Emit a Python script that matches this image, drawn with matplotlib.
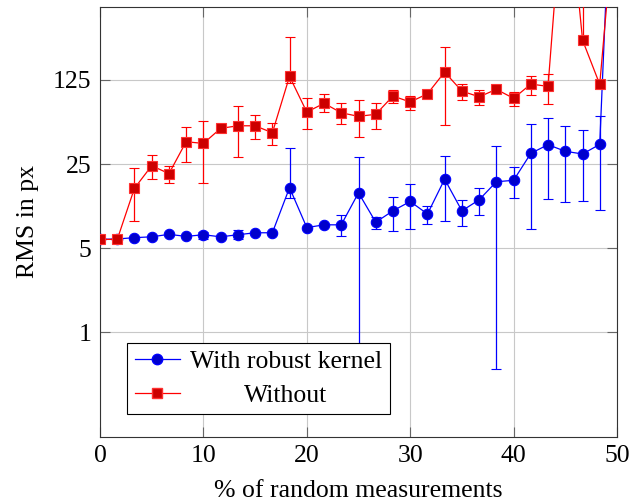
import numpy as np
import matplotlib.pyplot as plt
from matplotlib.lines import Line2D
from matplotlib.ticker import FixedLocator, FixedFormatter, NullLocator

# % of random measurements
x_percent = [0, 1.67, 3.33, 5, 6.67, 8.33, 10, 11.67, 13.33, 15, 16.67,
             18.33, 20, 21.67, 23.33, 25, 26.67, 28.33, 30, 31.67, 33.33,
             35, 36.67, 38.33, 40, 41.67, 43.33, 45, 46.67, 48.33, 50]

# with robust kernel: value, lower and upper end of error bar
robust_rms = [5.9, 5.95, 6.1, 6.2, 6.5, 6.25, 6.45, 6.2, 6.45, 6.7, 6.7,
              15.9, 7.4, 7.8, 7.8, 14.4, 8.2, 10.2, 12.2, 9.6, 18.7,
              10.2, 12.6, 17.8, 18.3, 30.7, 36.2, 31.9, 30.3, 36.4, 90000]
robust_low = [5.8, 5.95, 6.1, 6.2, 6.5, 6.25, 6.0, 6.2, 6.0, 6.7, 6.7,
              13.0, 7.4, 7.8, 6.3, 0.3, 7.2, 6.9, 7.2, 8.0, 8.4,
              7.7, 9.4, 0.49, 13.0, 7.2, 12.9, 12.1, 12.3, 10.3, 90000]
robust_high = [6.1, 5.95, 6.1, 6.2, 6.5, 6.25, 6.8, 6.2, 7.0, 6.7, 6.7,
               34.0, 7.4, 7.8, 9.4, 28.7, 9.0, 13.4, 17.1, 11.2, 29.0,
               12.6, 15.8, 35.3, 23.4, 53.8, 60.0, 51.7, 48.0, 62.3, 90000]

# without robust kernel
plain_rms = [5.9, 5.9, 15.7, 24.2, 20.8, 38.3, 37.1, 49.5, 52, 52, 45.5,
             134, 67.6, 80, 66.7, 62.3, 64.8, 92, 82, 96, 145.5,
             101, 90.6, 104.5, 88, 115.6, 110.6, 8000, 268, 115, 5000]
plain_low = [5.9, 5.9, 8.4, 18.7, 17.3, 26.0, 17.3, 47, 28.4, 40.6, 36,
             118, 48.5, 67.6, 54, 41.9, 49, 80, 70, 93, 52.7,
             84.6, 77, 101, 76, 94, 79, 8000, 250, 110, 5000]
plain_high = [5.9, 5.9, 23, 29.7, 24.2, 50.7, 56.6, 52, 76, 64, 55,
              286, 88, 95, 80, 84.6, 80, 103, 92, 99, 234,
              115, 103, 108, 100, 136, 141, 8000, 2000, 120, 5000]

x_ticks = [0, 10, 20, 30, 40, 50]
y_ticks = [1, 5, 25, 125]
y_tick_labels = ['1', '5', '25', '125']

FS = 18.5
plt.rcParams['font.family'] = ['Liberation Serif', 'DejaVu Serif']
plt.rcParams['font.size'] = FS

fig = plt.figure(figsize=(6.3, 5.03), dpi=100)
ax = fig.add_axes([100 / 630, 66 / 503, 517 / 630, 430 / 503])

r = np.array(robust_rms)
p = np.array(plain_rms)
ax.errorbar(x_percent, r,
            yerr=[r - np.array(robust_low), np.array(robust_high) - r],
            fmt='-o', color='#0000ff', mfc='#0000cc', mec='#0000ff',
            ms=7.5, mew=0.8, lw=0.9, elinewidth=0.9, capsize=3.5,
            capthick=0.9, zorder=3)
ax.errorbar(x_percent, p,
            yerr=[p - np.array(plain_low), np.array(plain_high) - p],
            fmt='-s', color='#ff0000', mfc='#cc0000', mec='#ff3030',
            ms=7.5, mew=0.8, lw=0.9, elinewidth=0.9, capsize=3.5,
            capthick=0.9, zorder=4)

ax.set_yscale('log')
ax.set_xlim(0, 50)
ax.set_ylim(0.134, 506)
ax.xaxis.set_major_locator(FixedLocator(x_ticks))
ax.yaxis.set_major_locator(FixedLocator(y_ticks))
ax.yaxis.set_major_formatter(FixedFormatter(y_tick_labels))
ax.yaxis.set_minor_locator(NullLocator())
ax.grid(True, color='#c8c8c8', lw=0.8)
ax.set_axisbelow(True)
ax.tick_params(direction='in', length=7, width=0.8, color='#666666',
               top=True, right=True, labelsize=FS, pad=6)
for s in ax.spines.values():
    s.set_color('#333333')
    s.set_linewidth(0.8)

ax.set_xlabel('% of random measurements', fontsize=FS, labelpad=9)
ax.set_ylabel('RMS in px', fontsize=FS, labelpad=10)

handles = [Line2D([], [], color='#0000ff', marker='o', mfc='#0000cc',
                  mec='#0000ff', ms=7.5, lw=0.9),
           Line2D([], [], color='#ff0000', marker='s', mfc='#cc0000',
                  mec='#ff3030', ms=7.5, lw=0.9)]
leg = ax.legend(handles, ['With robust kernel', 'Without'],
                loc='lower left', bbox_to_anchor=(0.052, 0.053),
                borderaxespad=0, fancybox=False, framealpha=1,
                edgecolor='black', handlelength=1.75, handletextpad=0.4,
                borderpad=0.3, labelspacing=0.4, fontsize=FS)
leg.get_frame().set_linewidth(0.8)

# center the shorter legend entry like pgfplots does
fig.canvas.draw()
renderer = fig.canvas.get_renderer()
texts = leg.get_texts()
w0 = texts[0].get_window_extent(renderer).width
w1 = texts[1].get_window_extent(renderer).width
texts[1].set_position(((w0 - w1) / 2, 0))

fig.savefig('out.png', dpi=100)
